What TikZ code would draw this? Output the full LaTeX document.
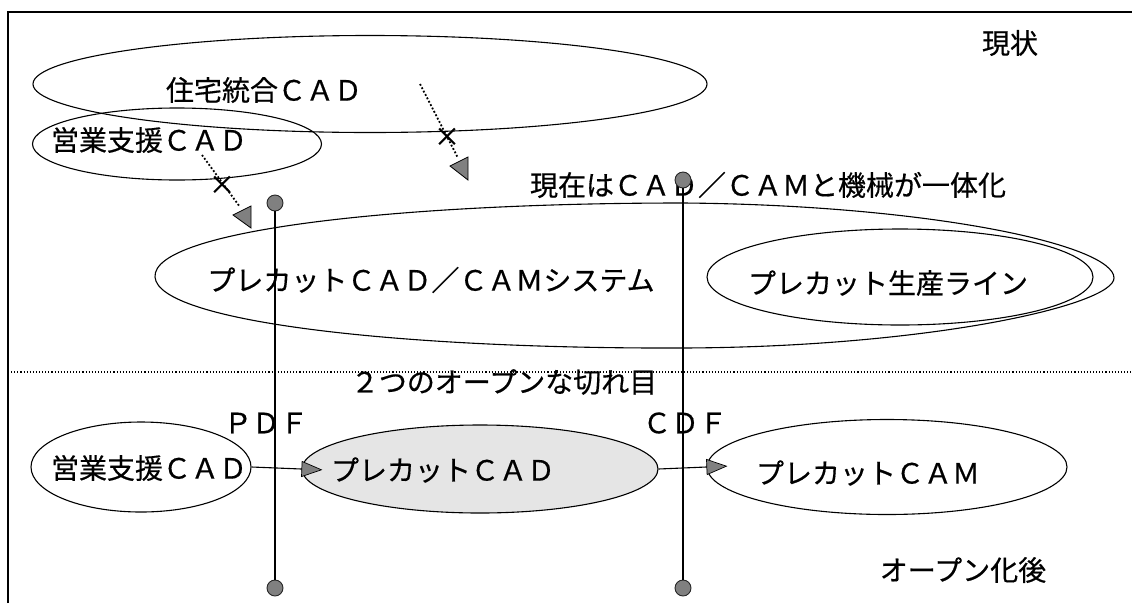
\documentclass[tikz,border=0pt]{standalone}
\usepackage{fontspec}
\setmainfont{Noto Sans CJK JP}[FakeBold=0.5]
\usetikzlibrary{arrows.meta,shapes.geometric}
\begin{document}
\begin{tikzpicture}[x=1pt,y=-1pt,
  jp/.style={font=\fontsize{28}{28}\selectfont, inner sep=0pt},
  oval/.style={draw, ellipse, line width=1.1pt, inner sep=0pt},
  flow/.style={line width=1.1pt, shorten >=-21pt, -{Triangle[length=21pt,width=16pt,fill=black!50,line width=0.7pt]}},
  dotline/.style={dotted, line width=1.8pt},
  headfill/.style={fill=black!50, draw=black, line width=0.8pt, line join=miter},
  pin/.style={circle, draw=black!85, fill=black!50, minimum size=16pt, inner sep=0pt, line width=0.9pt},
  crossmark/.style={font=\fontsize{26}{26}\selectfont, inner sep=0pt}]
\useasboundingbox (0,0) rectangle (1132,603);
% frame
\draw[line width=1.5pt] (8,603) -- (8,12) -- (1132,12);
% current state
\node[jp] (genjo) at (1010,43) {現状};
\node[oval, minimum width=674pt, minimum height=97pt] (jutaku) at (370,84) {};
\node[jp] (jutakut) at (264,90) {住宅統合ＣＡＤ};
\node[oval, minimum width=289pt, minimum height=72pt] (eigyo1) at (177,144) {};
\node[jp] (eigyo1t) at (149,140) {営業支援ＣＡＤ};
% system ellipse (egg shape)
\draw[line width=1.1pt] (155,277) .. controls (152,230) and (400,203) .. (683,203)
  .. controls (930,205) and (1114,245) .. (1114,278)
  .. controls (1114,305) and (930,347) .. (683,348)
  .. controls (400,349) and (158,322) .. (155,277);
\node[jp] (syst) at (431,280) {プレカットＣＡＤ／ＣＡＭシステム};
\node[oval, minimum width=386pt, minimum height=96pt] (line) at (900,277) {};
\node[jp] (linet) at (888,283) {プレカット生産ライン};
\node[jp] (ittai) at (768,185) {現在はＣＡＤ／ＣＡＭと機械が一体化};
% dotted arrows with crosses
\coordinate (s1) at (420,84);
\coordinate (e1) at (458,158);
\draw[dotline] (s1) -- (e1);
\filldraw[headfill] (468,157) -- (450,166) -- (468,180) -- cycle;
\node[crossmark] (x1) at (447,137) {×};
\coordinate (s2) at (202,155);
\coordinate (e2) at (240,207);
\draw[dotline] (s2) -- (e2);
\filldraw[headfill] (251,206) -- (233,215) -- (251,228) -- cycle;
\node[crossmark] (x2) at (222,185) {×};
% separator
\draw[dotted, line width=1.1pt] (8,372) -- (1132,372);
\node[jp] (kireme) at (504,382) {２つのオープンな切れ目};
% after opening
\node[jp] (pdf) at (266,423) {ＰＤＦ};
\node[jp] (cdf) at (685,423) {ＣＤＦ};
\node[oval, minimum width=220pt, minimum height=90pt] (eigyo2) at (141,467) {};
\node[jp] (eigyo2t) at (149,468) {営業支援ＣＡＤ};
\node[oval, fill=black!10, minimum width=356pt, minimum height=88pt] (pcad) at (480,469) {};
\node[jp] (pcadt) at (443,470) {プレカットＣＡＤ};
\node[oval, minimum width=360pt, minimum height=95pt] (pcam) at (887,467) {};
\node[jp] (pcamt) at (868,473) {プレカットＣＡＭ};
\draw[flow] (eigyo2.east) -- (pcad.west);
\draw[flow] (pcad.east) -- (pcam.west);
\node[jp] (open) at (963,570) {オープン化後};
% vertical cut lines with pins
\node[pin] (p1t) at (275,203) {};
\node[pin] (p1b) at (275,588) {};
\draw[line width=1.1pt] (p1t) -- (p1b);
\node[pin] (p2t) at (683,180) {};
\node[pin] (p2b) at (683,588) {};
\draw[line width=1.1pt] (p2t) -- (p2b);
\end{tikzpicture}
\end{document}
